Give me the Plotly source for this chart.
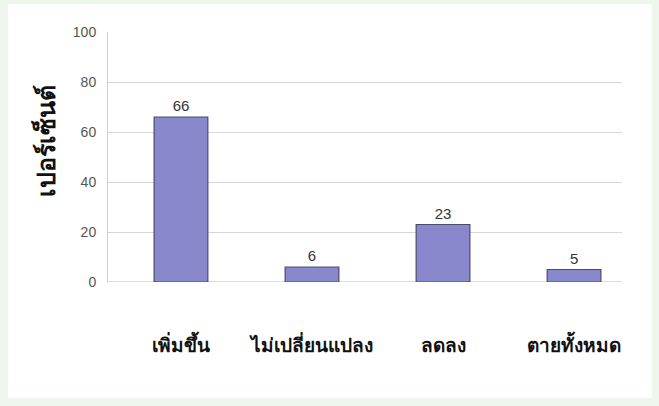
import plotly.graph_objects as go

categories = ["เพิ่มขึ้น", "ไม่เปลี่ยนแปลง", "ลดลง", "ตายทั้งหมด"]
values = [66, 6, 23, 5]
y_ticks = [0, 20, 40, 60, 80, 100]
y_title = "เปอร์เซ็นต์"

xpos = list(range(len(categories)))

fig = go.Figure()
fig.add_trace(go.Bar(
    x=xpos, y=values, width=0.41,
    marker=dict(color="#8a88cc", line=dict(color="#4a4a6a", width=1.2)),
    text=[str(v) for v in values], textposition="outside",
    textfont=dict(family="Liberation Sans, Arial, sans-serif", size=15, color="#333"),
    cliponaxis=False,
))

fig.update_layout(
    width=659, height=406,
    margin=dict(l=108, r=37, t=32, b=124),
    paper_bgcolor="#eef6ee",
    plot_bgcolor="rgba(0,0,0,0)",
    showlegend=False,
    shapes=[dict(type="rect", xref="paper", yref="paper", x0=-0.1946, x1=1.058,
                 y0=-0.464, y1=1.112, fillcolor="white", line=dict(width=0), layer="below")],
    xaxis=dict(
        range=[-0.557, 3.366],
        tickmode="array", tickvals=xpos, ticktext=categories,
        showgrid=False, zeroline=False, showline=False, ticks="",
        ticklabelstandoff=50,
        tickfont=dict(family="Noto Sans, Liberation Sans, sans-serif", size=19, color="#111", weight="bold"),
    ),
    yaxis=dict(
        range=[0, 100], tickmode="array", tickvals=y_ticks,
        showgrid=True, gridcolor="#d6d6d6", gridwidth=1,
        zeroline=False, showline=True, linecolor="#d0d0d0", linewidth=1,
        ticks="", ticklabelstandoff=8,
        tickfont=dict(family="Liberation Sans, Arial, sans-serif", size=14, color="#555"),
    ),
    annotations=[dict(text=y_title, textangle=-90, xref="paper", yref="paper",
                      x=-0.1226, y=0.564, xanchor="center", yanchor="middle", showarrow=False,
                      font=dict(family="Noto Sans, Liberation Sans, sans-serif", size=25, color="#111", weight="bold"))],
)
fig.add_hline(y=0, line=dict(color="#b8b8b8", width=1), layer="below")

fig.write_html("out.html")
